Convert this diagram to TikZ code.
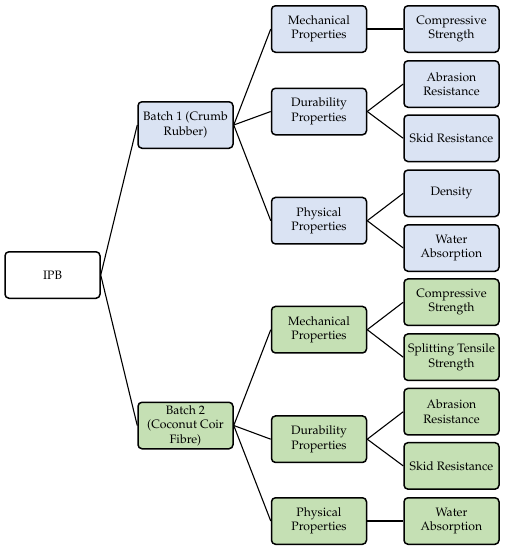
\documentclass[tikz,border=0pt]{standalone}
\usepackage[T1]{fontenc}
\usepackage{mathpazo}
\definecolor{bluefill}{HTML}{DAE3F3}
\definecolor{greenfill}{HTML}{C5E0B4}
\begin{document}
\begin{tikzpicture}[x=1pt,y=-1pt,
  box/.style={draw=black, line width=1.5pt, rounded corners=4pt, minimum width=95pt, minimum height=46.5pt, inner sep=0pt, align=center, font=\fontsize{12.2}{14.4}\selectfont},
  bb/.style={box, fill=bluefill},
  gb/.style={box, fill=greenfill},
  wb/.style={box, fill=white},
  link/.style={draw=black, line width=1.1pt}]
\useasboundingbox (0,0) rectangle (505,550);
\node[wb] (ipb) at (52.5,275) {IPB};
\node[bb] (b1) at (185.5,125) {Batch 1 (Crumb\\Rubber)};
\node[gb] (b2) at (185.5,425.5) {Batch 2\\(Coconut Coir\\Fibre)};
\node[bb] (m1) at (319,29) {Mechanical\\Properties};
\node[bb] (d1) at (319,111.5) {Durability\\Properties};
\node[bb] (p1) at (319,220.7) {Physical\\Properties};
\node[bb] (c1) at (451.5,29) {Compressive\\Strength};
\node[bb] (a1) at (451.5,84) {Abrasion\\Resistance};
\node[bb] (s1) at (451.5,138.3) {Skid Resistance};
\node[bb] (den) at (451.5,193.3) {Density};
\node[bb] (w1) at (451.5,248) {Water\\Absorption};
\node[gb] (m2) at (319,329.7) {Mechanical\\Properties};
\node[gb] (d2) at (319,439.2) {Durability\\Properties};
\node[gb] (p2) at (319,521) {Physical\\Properties};
\node[gb] (c2) at (451.5,302.2) {Compressive\\Strength};
\node[gb] (st) at (451.5,357.2) {Splitting Tensile\\Strength};
\node[gb] (a2) at (451.5,411.7) {Abrasion\\Resistance};
\node[gb] (s2) at (451.5,465.9) {Skid Resistance};
\node[gb] (w2) at (451.5,521) {Water\\Absorption};
\foreach \a/\b in {ipb/b1, ipb/b2, b1/m1, b1/d1, b1/p1, m1/c1, d1/a1, d1/s1, p1/den, p1/w1, b2/m2, b2/d2, b2/p2, m2/c2, m2/st, d2/a2, d2/s2, p2/w2}
  \draw[link] (\a.east) -- (\b.west);
\end{tikzpicture}
\end{document}
